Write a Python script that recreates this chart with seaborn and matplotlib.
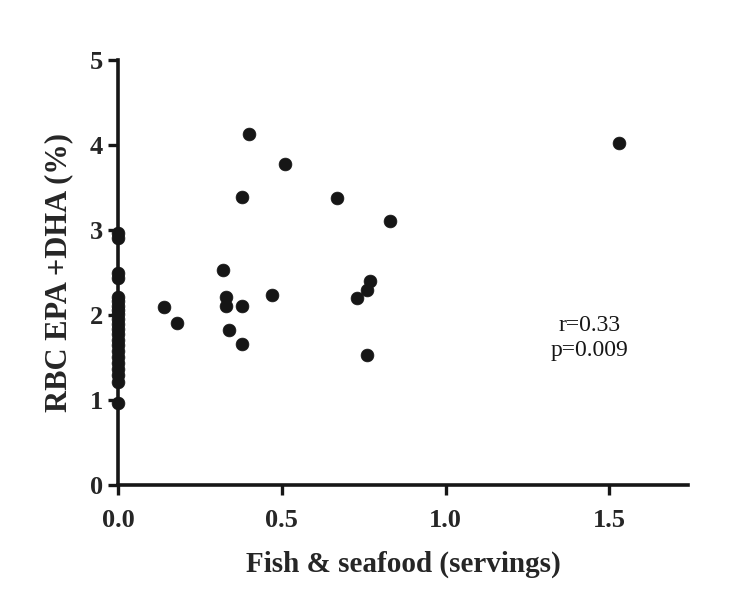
import matplotlib
matplotlib.use("Agg")
import matplotlib.pyplot as plt
import seaborn as sns
import pandas as pd

# Fish & seafood servings and RBC EPA+DHA (%)
servings_zero = [0.0] * 22
epa_dha_zero = [2.97, 2.91, 2.49, 2.43, 2.21, 2.16, 2.11, 2.06, 2.01, 1.95,
                 1.89, 1.84, 1.78, 1.71, 1.65, 1.58, 1.51, 1.44, 1.37, 1.29,
                 1.21, 0.97]
servings_eaters = [0.40, 0.51, 0.38, 0.67, 0.83, 0.32, 0.77, 0.76, 0.73, 0.47,
                   0.33, 0.33, 0.38, 0.14, 0.18, 0.34, 0.38, 0.76, 1.53]
epa_dha_eaters = [4.13, 3.78, 3.39, 3.38, 3.11, 2.53, 2.40, 2.29, 2.20, 2.23,
                  2.21, 2.11, 2.11, 2.09, 1.91, 1.82, 1.66, 1.53, 4.02]

x_ticks = [0.0, 0.5, 1.0, 1.5]
x_tick_labels = ["0.0", "0.5", "1.0", "1.5"]
y_ticks = [0, 1, 2, 3, 4, 5]
stats_label = "r=0.33\np=0.009"

df = pd.DataFrame({
    "servings": servings_zero + servings_eaters,
    "epa_dha": epa_dha_zero + epa_dha_eaters,
})

sns.set_style("ticks")
plt.rcParams["font.family"] = ["Liberation Serif", "DejaVu Serif"]

fig = plt.figure(figsize=(7.56, 6.07), dpi=100)
ax = fig.add_axes([0.156, 0.201, 0.754, 0.700])

sns.scatterplot(data=df, x="servings", y="epa_dha", ax=ax,
                color="#161616", s=85, edgecolor="#161616", linewidth=0.5,
                zorder=3, clip_on=False)

ax.set_xlim(0, 1.74)
ax.set_ylim(0, 5)
ax.set_xticks(x_ticks)
ax.set_xticklabels(x_tick_labels)
ax.set_yticks(y_ticks)

for side in ["top", "right"]:
    ax.spines[side].set_visible(False)
for side in ["left", "bottom"]:
    ax.spines[side].set_linewidth(2.6)
    ax.spines[side].set_color("#161616")

ax.tick_params(axis="both", direction="out", length=7, width=2.4,
               color="#161616", labelsize=19, pad=4)
for lbl in ax.get_xticklabels() + ax.get_yticklabels():
    lbl.set_fontweight("bold")
ax.tick_params(axis="x", pad=10)

ax.set_xlabel("Fish & seafood (servings)", fontsize=21, fontweight="bold",
              labelpad=14)
ax.set_ylabel("RBC EPA +DHA (%)", fontsize=22, fontweight="bold",
              labelpad=12)

ax.text(1.44, 1.73, stats_label, ha="center", va="center", fontsize=17,
        linespacing=1.25, color="#161616")

fig.savefig("out.png", dpi=100, facecolor="white")
